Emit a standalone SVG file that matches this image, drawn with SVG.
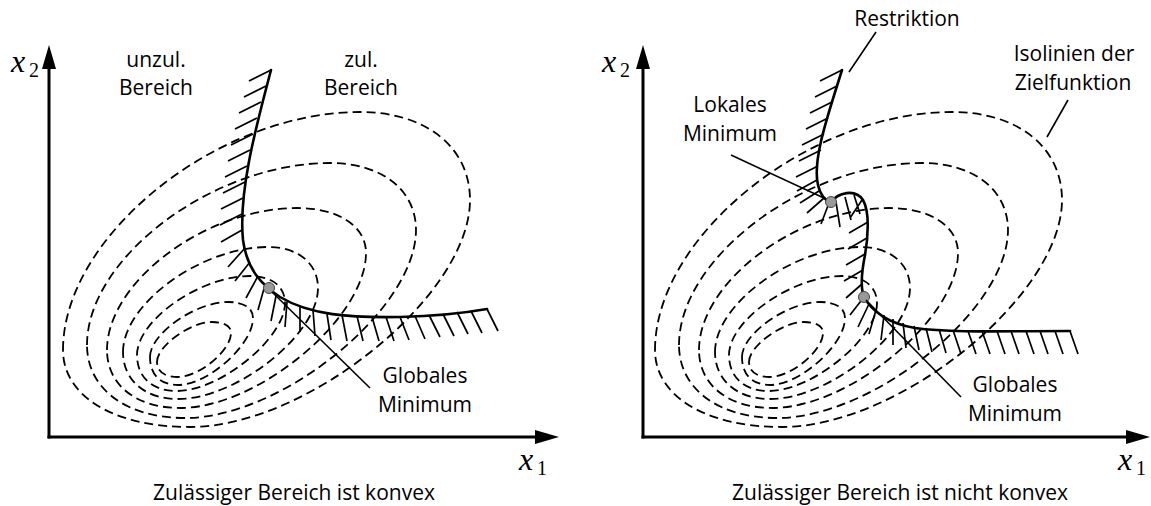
<svg xmlns="http://www.w3.org/2000/svg" width="1151" height="506" viewBox="0 0 1151 506">
<style>
.lbl{font-family:"Open Sans","Liberation Sans",sans-serif;font-size:21px;fill:#000;text-anchor:middle}
.math{font-family:"Liberation Serif","DejaVu Serif",serif;font-size:32px;font-style:italic;fill:#000}
.sub{font-family:"Liberation Serif","DejaVu Serif",serif;font-size:20px;font-style:normal;fill:#000}
.axis{fill:none;stroke:#000;stroke-width:3;stroke-linecap:square}
.iso{fill:none;stroke:#000;stroke-width:1.8;stroke-dasharray:9 5}
.con{fill:none;stroke:#000;stroke-width:2.6;stroke-linecap:round}
.hatch{fill:none;stroke:#000;stroke-width:1.7}
.lead{fill:none;stroke:#000;stroke-width:1.6}
.pt{fill:#999;stroke:#444;stroke-width:1}
</style>
<defs>
<marker id="arr" markerUnits="userSpaceOnUse" markerWidth="24" markerHeight="14" viewBox="0 0 24 14" refX="1" refY="7" orient="auto"><path d="M0,0 L24,7 L0,14 Z" fill="#000"/></marker>
<g id="contours" class="iso">
<path d="M63,350 C63,235.8 217.4,112 360,112 C426,112 470,147.2 470,200 C470,295.3 307.6,427 190,427 C113.8,427 63,396.2 63,350Z"/>
<path d="M87,345 C87,257.6 213.4,163 330,163 C381.6,163 416,189.8 416,230 C416,309 282,418 185,418 C126.2,418 87,388.8 87,345Z"/>
<path d="M107,350 C107,281.8 205.8,208 297,208 C338.4,208 366,226 366,253 C366,318.1 258.1,408 180,408 C136.2,408 107,384.8 107,350Z"/>
<path d="M123,352 C123,303.7 201.3,247 268,247 C298,247 318,263.4 318,288 C318,334.6 236.8,399 178,399 C145,399 123,380.2 123,352Z"/>
<path d="M137,355 C137,320.2 200.3,276 250,276 C271.7,276 285,286.3 285,303 C285,338.2 220.2,391 177,391 C152.2,391 137,377.3 137,355Z"/>
<path d="M150,357 C150,333.9 195.2,302 228,302 C243.8,302 253,307.9 253,318 C253,344.8 208,385 178,385 C160.4,385 150,374.6 150,357Z"/>
<path d="M157,362 C157,346 190,322 212,322 C224.2,322 231,326 231,333 C231,350.6 199.2,377 178,377 C164.6,377 157,371.6 157,362Z"/>
</g>
</defs>
<rect x="0" y="0" width="1151" height="506" fill="#fff"/>

<g id="left-panel">
<g id="left-axes">
<path class="axis" d="M49,437 V68" marker-end="url(#arr)"/>
<path class="axis" d="M49,437 H536" marker-end="url(#arr)"/>
<text class="math" x="11" y="72">x<tspan class="sub" x="29" y="77">2</tspan></text>
<text class="math" x="519" y="470">x<tspan class="sub" x="537" y="475">1</tspan></text>
</g>
<use id="left-contours" href="#contours"/>
<g id="left-constraint">
<path class="con" d="M271,70 C258,120 238,190 243,240 C247,270 262,285 280,297 C310,315 350,318 400,317 C440,316 470,312 487,309"/>
<path class="hatch" d="M271,70L249,81 M266,86L244,97 M261,102L239,113 M257,118L235,129 M253,134L231,145 M250,150L228,161 M247,166L225,177 M245,182L223,193 M243,198L221,209 M242,214L220,225 M242,230L221,242 M245,248L228,267 M250,262L235,281 M258,276L246,298 M265,285L258,310 M276,296L271,321 M287,302L285,327 M300,307L300,332 M313,310L315,336 M327,314L331,340 M342,315L347,341 M357,316L363,341 M372,317L379,341 M386,317L394,341 M400,317L409,340 M415,316L425,339 M429,315L440,337 M443,314L454,336 M457,312L468,334 M471,311L482,333 M487,309L498,331"/>
</g>
<g id="left-global-min"><circle class="pt" cx="269" cy="288" r="5.5"/></g>
<g id="left-labels">
<text class="lbl" x="156" y="67">unzul.</text>
<text class="lbl" x="156" y="95">Bereich</text>
<text class="lbl" x="361" y="67">zul.</text>
<text class="lbl" x="361" y="95">Bereich</text>
<text class="lbl" x="425" y="383">Globales</text>
<text class="lbl" x="425" y="412">Minimum</text>
<text class="lbl" x="294" y="500">Zulässiger Bereich ist konvex</text>
</g>
</g>

<g id="right-panel">
<g id="right-axes">
<path class="axis" d="M643,437 V68" marker-end="url(#arr)"/>
<path class="axis" d="M643,437 H1127" marker-end="url(#arr)"/>
<text class="math" x="602" y="72">x<tspan class="sub" x="620" y="77">2</tspan></text>
<text class="math" x="1118" y="470">x<tspan class="sub" x="1136" y="475">1</tspan></text>
</g>
<use id="right-contours" href="#contours" transform="translate(592,0)"/>
<g id="right-constraint">
<path class="con" d="M842,70 C828,115 812,160 818,185 C821,197 827,201 831,202 C838,193 855,188 863,200 C870,212 868,238 865,255 C862,270 860,287 864,297 C872,312 890,324 915,328 C950,333 1010,331 1070,331"/>
<path class="hatch" d="M842,70L820,81 M837,86L815,97 M832,102L810,113 M828,118L806,129 M824,134L802,145 M821,150L799,161 M818,166L796,177 M817,180L797,191 M819,191L800,203 M824,198L807,213 M829,203L821,224 M836,202L840,227 M845,197L851,220 M854,195L860,214 M862,200L850,218 M868,222L849,233 M867,238L848,249 M865,254L846,265 M863,270L844,281 M862,284L846,298 M864,297L850,315 M869,304L858,327 M876,310L869,334 M884,315L881,340 M893,319L893,345 M903,323L906,348 M914,326L919,350 M926,328L932,352 M939,329L946,353 M953,330L961,354 M968,331L976,354 M982,331L990,354 M997,331L1005,354 M1011,331L1019,354 M1026,331L1034,354 M1040,331L1048,354 M1055,331L1063,354 M1070,331L1078,354"/>
</g>
<g id="right-local-min"><circle class="pt" cx="831" cy="202" r="5.5"/></g>
<g id="right-global-min"><circle class="pt" cx="864" cy="297" r="5.5"/></g>
<g id="right-labels">
<text class="lbl" x="907" y="26">Restriktion</text>
<text class="lbl" x="1074" y="61">Isolinien der</text>
<text class="lbl" x="1073" y="90">Zielfunktion</text>
<text class="lbl" x="730" y="112">Lokales</text>
<text class="lbl" x="730" y="141">Minimum</text>
<text class="lbl" x="1015" y="392">Globales</text>
<text class="lbl" x="1015" y="421">Minimum</text>
<text class="lbl" x="900" y="500">Zulässiger Bereich ist nicht konvex</text>
</g>
</g>

<g id="connectors" class="lead">
<path d="M272,292 L370,388"/>
<path d="M876,32 L849,72"/>
<path d="M1068,100 L1047,137"/>
<path d="M731,155 L826,199"/>
<path d="M866,300 L961,397"/>
</g>
</svg>
